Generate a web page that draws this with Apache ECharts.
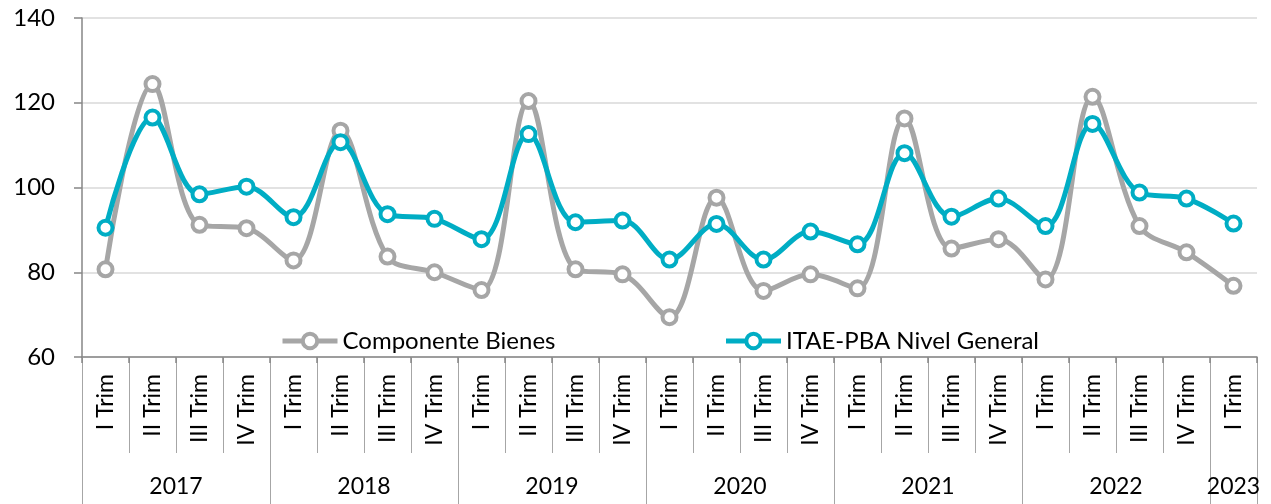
<!DOCTYPE html>
<html>
<head>
<meta charset="utf-8">
<script src="https://cdn.jsdelivr.net/npm/echarts@6/dist/echarts.min.js"></script>
<style>
  html, body { margin: 0; padding: 0; background: #fff; }
  #chart { width: 1271px; height: 504px; }
</style>
</head>
<body>
<div id="chart"></div>
<script>
// datos
var quarters = ['I Trim', 'II Trim', 'III Trim', 'IV Trim'];
var years = ['2017', '2018', '2019', '2020', '2021', '2022', '2023'];
var quartersPerYear = [4, 4, 4, 4, 4, 4, 1];
var yTicks = [60, 80, 100, 120, 140];

var bienes = [80.7, 124.4, 91.2, 90.4, 82.8, 113.4, 83.7, 80.0, 75.8, 120.4, 80.7, 79.5,
  69.4, 97.6, 75.6, 79.5, 76.2, 116.3, 85.6, 87.8, 78.3, 121.4, 90.9, 84.7, 76.8];
var itae = [90.5, 116.5, 98.4, 100.2, 93.0, 110.7, 93.7, 92.6, 87.8, 112.6, 91.8, 92.2,
  83.0, 91.4, 83.0, 89.6, 86.6, 108.1, 93.1, 97.4, 90.9, 115.0, 98.8, 97.4, 91.5];

var GRAY = '#a6a6a6';
var TEAL = '#00adc4';
var FONT = 'Lato';

// categorias trimestrales
var cats = [];
for (var y = 0; y < years.length; y++) {
  for (var q = 0; q < quartersPerYear[y]; q++) cats.push(quarters[q]);
}
// eje de años: dos medias posiciones por trimestre
var yearSlots = [];
var yearEdges = {};
var s = 0;
for (var i = 0; i <= cats.length * 2; i++) yearSlots.push('');
for (var y = 0; y < years.length; y++) {
  yearEdges[s] = true;
  yearSlots[s + quartersPerYear[y]] = years[y];
  s += quartersPerYear[y] * 2;
}
yearEdges[s] = true;

var myChart = echarts.init(document.getElementById('chart'));

function lineSerie(name, data, color) {
  return {
    name: name,
    type: 'line',
    data: data,
    smooth: 0.35,
    symbol: 'circle',
    symbolSize: 14,
    lineStyle: { color: color, width: 5 },
    itemStyle: { color: '#fff', borderColor: color, borderWidth: 4 },
    emphasis: { disabled: true }
  };
}

var option = {
  animation: false,
  textStyle: { fontFamily: FONT },
  grid: [
    { left: 82, right: 14, top: 18, bottom: 147 },
    { left: 82, right: 14, top: 187, bottom: 147 }
  ],
  legend: {
    left: 275,
    top: 324,
    itemWidth: 55,
    itemHeight: 18,
    itemGap: 168,
    lineStyle: { width: 5 },
    itemStyle: { borderWidth: 4 },
    textStyle: { fontSize: 24, color: '#000', fontFamily: FONT },
    data: ['Componente Bienes', 'ITAE-PBA Nivel General']
  },
  xAxis: [
    {
      type: 'category',
      gridIndex: 0,
      position: 'bottom',
      data: cats,
      boundaryGap: true,
      axisLine: { show: false },
      axisTick: { show: true, interval: 0, length: 96, lineStyle: { color: GRAY } },
      axisLabel: { interval: 0, rotate: 90, margin: 17, fontSize: 23, color: '#000', fontFamily: FONT }
    },
    {
      type: 'category',
      gridIndex: 0,
      position: 'bottom',
      offset: 0,
      data: yearSlots,
      boundaryGap: false,
      axisLine: { show: false },
      axisTick: {
        show: true, length: 147, lineStyle: { color: GRAY },
        interval: function (idx) { return !!yearEdges[idx]; }
      },
      axisLabel: { interval: 0, margin: 118, fontSize: 23, color: '#000', fontFamily: FONT }
    },
    {
      type: 'category',
      gridIndex: 1,
      position: 'top',
      data: cats,
      boundaryGap: true,
      axisLine: { show: true, lineStyle: { color: '#868686', width: 1.5 } },
      axisTick: { show: true, inside: true, interval: 0, length: 6, lineStyle: { color: '#868686', width: 1.5 } },
      axisLabel: { show: false }
    }
  ],
  yAxis: [
    {
      type: 'value',
      gridIndex: 0,
      min: yTicks[0],
      max: yTicks[yTicks.length - 1],
      interval: 20,
      axisLine: { show: true, lineStyle: { color: '#868686', width: 1.5 } },
      axisTick: { show: true, length: 8, lineStyle: { color: '#868686', width: 1.5 } },
      axisLabel: { margin: 27, fontSize: 24, color: '#000', fontFamily: FONT },
      splitLine: { show: true, lineStyle: { color: '#d9d9d9', width: 1.5 } }
    },
    { type: 'value', gridIndex: 1, show: false }
  ],
  series: [
    lineSerie('Componente Bienes', bienes, GRAY),
    lineSerie('ITAE-PBA Nivel General', itae, TEAL)
  ]
};
myChart.setOption(option);
</script>
</body>
</html>
